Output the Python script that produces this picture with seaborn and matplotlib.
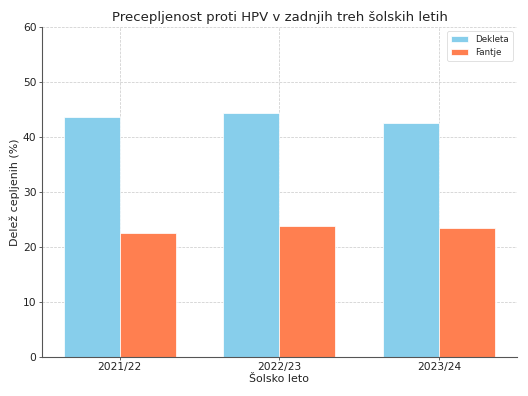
import matplotlib
matplotlib.use("Agg")
import matplotlib.pyplot as plt
import pandas as pd
import seaborn as sns

# data
leta = ["2021/22", "2022/23", "2023/24"]
dekleta = [43.7, 44.3, 42.5]
fantje = [22.6, 23.8, 23.5]

df = pd.DataFrame({
    "Šolsko leto": leta * 2,
    "Delež": dekleta + fantje,
    "Spol": ["Dekleta"] * 3 + ["Fantje"] * 3,
})

sns.set_theme(style="whitegrid")
plt.rcParams['font.family'] = ['DejaVu Sans']

fig, ax = plt.subplots(figsize=(10, 7.5), dpi=52.8)
fig.subplots_adjust(left=0.0795, right=0.979, top=0.932, bottom=0.0985)

sns.barplot(data=df, x="Šolsko leto", y="Delež", hue="Spol",
            palette=["skyblue", "coral"], width=0.7, saturation=1,
            ax=ax)

ax.set_xlim(-0.485, 2.485)
ax.set_ylim(0, 60)
ax.set_title("Precepljenost proti HPV v zadnjih treh šolskih letih",
             fontsize=18, color="#222222", pad=8)
ax.set_xlabel("Šolsko leto", fontsize=15, color="#222222", labelpad=2)
ax.set_ylabel("Delež cepljenih (%)", fontsize=15, color="#222222")
ax.tick_params(axis="both", labelsize=14.5, length=4, color="#555555",
               labelcolor="#222222", left=True, bottom=True)

ax.grid(True, linestyle="--", color="#cccccc", linewidth=1)
for s in ["top", "right"]:
    ax.spines[s].set_visible(False)
for s in ["left", "bottom"]:
    ax.spines[s].set_color("#555555")
    ax.spines[s].set_linewidth(1.5)

ax.legend(loc="upper right", fontsize=12, frameon=True)

fig.savefig("out.png", dpi=52.8)
